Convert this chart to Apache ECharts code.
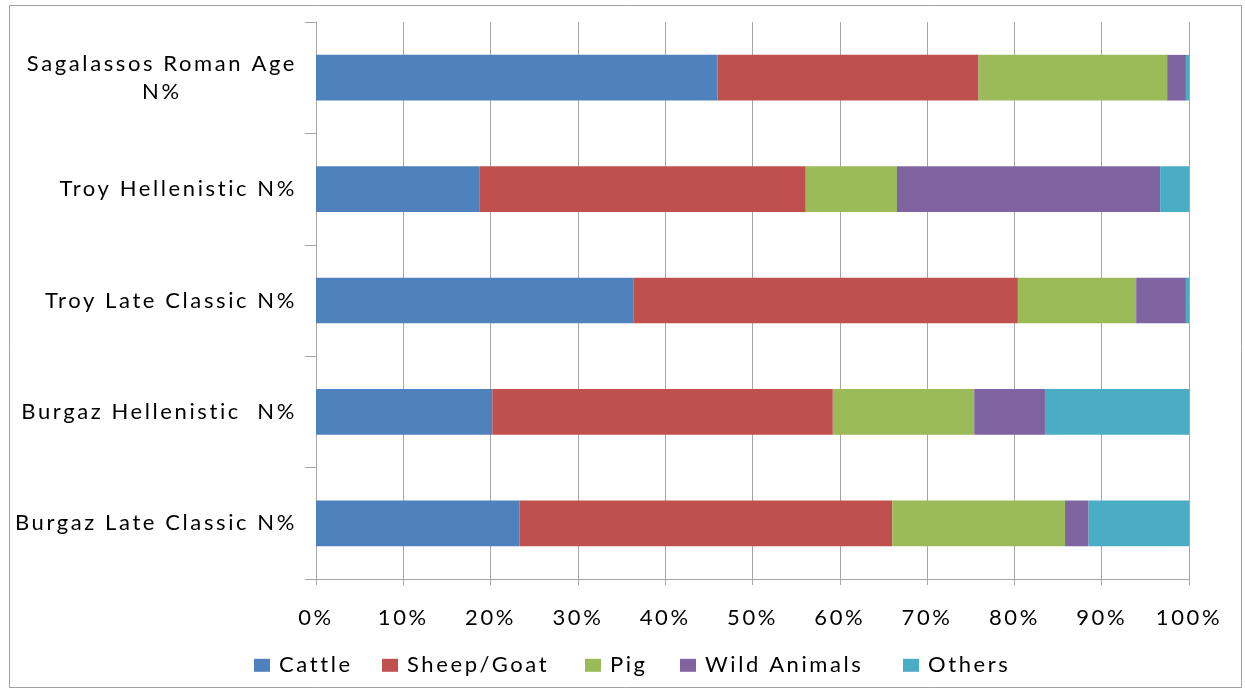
<!DOCTYPE html>
<html>
<head>
<meta charset="utf-8">
<script src="https://cdn.jsdelivr.net/npm/echarts@6/dist/echarts.min.js"></script>
<style>
  html, body { margin: 0; padding: 0; background: #fff; }
  #chart { width: 1245px; height: 690px; }
</style>
</head>
<body>
<div id="chart"></div>
<script>
// Sites / periods, listed bottom to top on the category axis
const sites = [
  'Burgaz Late Classic N%',
  'Burgaz Hellenistic  N%',
  'Troy Late Classic N%',
  'Troy Hellenistic N%',
  'Sagalassos Roman Age\nN%'
];

// Share of each animal group per site (percent of N)
const cattle      = [23.3, 20.2, 36.4, 18.7, 46.0];
const sheepGoat   = [42.7, 39.0, 44.0, 37.4, 29.9];
const pig         = [19.8, 16.2, 13.55, 10.45, 21.6];
const wildAnimals = [2.7, 8.1, 5.7, 30.15, 2.15];
const others      = [11.5, 16.5, 0.35, 3.3, 0.35];

const seriesNames = ['Cattle', 'Sheep/Goat', 'Pig', 'Wild Animals', 'Others'];
const seriesData  = [cattle, sheepGoat, pig, wildAnimals, others];
const colors = ['#4F81BD', '#C0504D', '#9BBB59', '#8064A2', '#4BACC6'];

// Spaced-out lettering: every 2D context gets the same letter spacing
// whenever its font is set (measurement and drawing alike).
(function () {
  const proto = CanvasRenderingContext2D.prototype;
  const desc = Object.getOwnPropertyDescriptor(proto, 'font');
  if (!desc || !('letterSpacing' in proto)) return;
  Object.defineProperty(proto, 'font', {
    configurable: true,
    get: function () { return desc.get.call(this); },
    set: function (v) { desc.set.call(this, v); this.letterSpacing = '2.6px'; }
  });
})();

const FONT = 'Lato';
const FONT_SIZE = 22;
const gridColor = '#a6a6a6';

// Left edge of each legend entry
const legendLefts = [254, 382, 585, 680, 903];

const chart = echarts.init(document.getElementById('chart'), null, { renderer: 'canvas' });

chart.setOption({
  backgroundColor: '#ffffff',
  animation: false,
  color: colors,
  graphic: [{
    type: 'rect',
    shape: { x: 9.5, y: 5.5, width: 1232, height: 682 },
    style: { fill: 'none', stroke: '#a0a0a0', lineWidth: 1 },
    silent: true,
    z: -1
  }],
  grid: { left: 316, right: 56, top: 22, bottom: 111, containLabel: false },
  legend: seriesNames.map((name, i) => ({
    left: legendLefts[i],
    top: 653,
    padding: 0,
    itemWidth: 16,
    itemHeight: 13,
    icon: 'rect',
    selectedMode: false,
    textStyle: { fontFamily: FONT, fontSize: FONT_SIZE, color: '#000', padding: [0, 0, 0, 4] },
    data: [name]
  })),
  xAxis: {
    type: 'value',
    min: 0,
    max: 100,
    interval: 10,
    axisLine: { show: true, lineStyle: { color: gridColor, width: 1 } },
    axisTick: { show: true, length: 6, lineStyle: { color: gridColor } },
    splitLine: { show: true, lineStyle: { color: gridColor, width: 1 } },
    axisLabel: {
      formatter: '{value}%',
      margin: 27,
      fontFamily: FONT,
      fontSize: FONT_SIZE,
      color: '#000'
    }
  },
  yAxis: {
    type: 'category',
    data: sites,
    axisLine: { show: true, lineStyle: { color: gridColor, width: 1 } },
    axisTick: { show: true, length: 11, lineStyle: { color: gridColor } },
    axisLabel: {
      margin: 19,
      fontFamily: FONT,
      fontSize: FONT_SIZE,
      color: '#000',
      lineHeight: 28,
      formatter: function (v) {
        const lines = v.split('\n');
        if (lines.length === 1) return v;
        return lines.map(l => '{c|' + l + '}').join('\n');
      },
      rich: {
        c: { align: 'center', fontFamily: FONT, fontSize: FONT_SIZE, color: '#000', lineHeight: 28 }
      }
    }
  },
  series: seriesNames.map((name, i) => ({
    name: name,
    type: 'bar',
    stack: 'total',
    barWidth: '41%',
    data: seriesData[i],
    itemStyle: { color: colors[i] }
  }))
});
</script>
</body>
</html>
